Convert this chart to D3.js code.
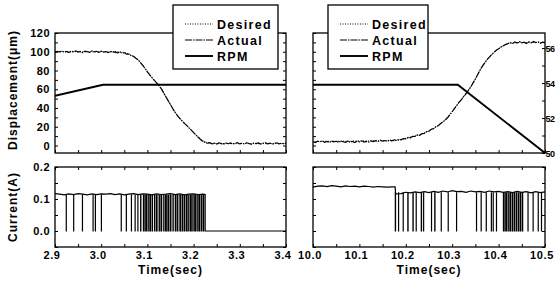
<!DOCTYPE html>
<html>
<head>
<meta charset="utf-8">
<script src="https://cdn.jsdelivr.net/npm/d3@7"></script>
<style>
  body { margin: 0; background: #fff; }
  svg { display: block; font-family: "Liberation Sans", Arial, sans-serif; }
</style>
</head>
<body>
<svg id="chart" width="555" height="281"></svg>
<script>
// ---- data ----
// tick labels
var timeTicksL = [2.9, 3.0, 3.1, 3.2, 3.3, 3.4];
var timeTicksR = [10.0, 10.1, 10.2, 10.3, 10.4, 10.5];
var dispTicks = [0, 20, 40, 60, 80, 100, 120];
var curTicks = [0.0, 0.1, 0.2];
var rpmTicks = [50, 52, 54, 56];   // x100 rpm

// actual displacement, sampled every 5 ms
var sampleStep = 0.005;
var actualL = [99.5,100.5,99.8,100.8,99.6,100.4,99.2,100.6,99.9,101.0,99.7,100.3,99.1,100.7,100.0,99.3,100.9,99.8,100.5,99.4,
  100.6,99.7,100.2,99.0,100.4,99.6,99.9,98.8,99.5,98.6,98.9,97.4,97.6,95.8,95.2,93.0,91.4,88.5,85.6,82.0,
  78.5,75.4,72.3,69.4,66.8,64.0,60.6,56.2,52.0,47.8,43.6,39.2,35.4,31.8,29.0,26.2,23.6,21.5,18.8,16.4,
  13.8,11.2,8.8,6.4,4.6,3.2,2.4,3.0,1.8,2.6,1.6,2.9,2.0,1.4,2.7,1.9,2.8,1.5,2.3,3.1,
  1.7,2.5,1.6,2.9,2.1,1.3,2.6,2.0,2.8,1.6,2.4,3.0,1.8,2.6,1.5,2.2,2.9,1.7,2.5,1.9,2.6];
var actualR = [4.2,3.1,4.6,3.8,5.0,3.5,4.4,3.2,4.8,3.9,4.5,3.3,4.9,4.0,3.4,4.7,3.6,4.3,3.2,4.6,
  3.9,5.0,3.7,4.4,3.5,4.8,4.1,5.2,4.3,5.6,4.6,5.3,4.5,5.8,5.0,6.1,5.4,6.6,6.0,7.4,
  7.0,8.6,8.2,9.8,9.6,11.2,10.8,12.6,13.0,14.8,15.2,17.4,18.0,20.2,21.0,23.4,25.0,27.2,29.4,32.8,
  36.0,39.6,43.0,46.2,49.0,52.4,55.2,58.8,62.4,66.8,71.0,75.8,80.4,84.6,88.2,91.6,94.2,97.0,99.4,101.6,
  103.2,105.0,106.4,107.8,108.6,109.8,108.9,110.4,109.2,110.8,109.6,110.2,108.8,110.6,109.4,111.0,109.8,110.5,109.1,110.3,109.7];

// desired trajectory (corner points)
var desiredTL = [2.90, 3.04, 3.05, 3.06, 3.07, 3.08, 3.09, 3.10, 3.11, 3.12, 3.13, 3.14, 3.15, 3.16, 3.17, 3.18, 3.19, 3.20, 3.21, 3.22, 3.23, 3.24, 3.40];
var desiredVL = [100, 100, 99.2, 97.5, 95, 91.2, 85.8, 79, 72.5, 66.8, 60.8, 52, 43.6, 35.5, 29, 24, 19, 14, 9, 5, 3, 2, 2];
var desiredTR = [10.00, 10.18, 10.20, 10.22, 10.24, 10.26, 10.28, 10.30, 10.32, 10.34, 10.36, 10.38, 10.40, 10.42, 10.44, 10.50];
var desiredVR = [4.2, 5.2, 7.6, 10.2, 13.4, 18.2, 25.2, 36.2, 49.2, 62.6, 80.6, 94.4, 103.4, 108.8, 109.8, 109.8];

// motor speed (x100 rpm)
var rpmTL = [2.90, 3.004, 3.40];
var rpmVL = [53.27, 53.90, 53.90];
var rpmTR = [10.00, 10.312, 10.50];
var rpmVR = [53.90, 53.90, 50.00];

// coil current (A)
var curTL = [2.90,2.91,2.92,2.93,2.94,2.95,2.96,2.97,2.98,2.99,3.00,3.01,3.02,3.03,3.04,3.05,3.06,3.07,3.08,3.09,
  3.10,3.11,3.12,3.13,3.14,3.15,3.16,3.17,3.18,3.19,3.20,3.21,3.22,3.225,3.225,3.40];
var curVL = [0.117,0.115,0.113,0.116,0.114,0.117,0.115,0.113,0.116,0.114,0.116,0.115,0.117,0.114,0.116,0.113,0.115,0.117,0.114,0.116,
  0.115,0.113,0.116,0.114,0.115,0.117,0.114,0.116,0.113,0.115,0.116,0.114,0.115,0.114,0,0];
var curTR = [10.00,10.01,10.02,10.03,10.04,10.05,10.06,10.07,10.08,10.09,10.10,10.11,10.12,10.13,10.14,10.15,10.16,10.17,10.177,10.178,
  10.19,10.20,10.21,10.22,10.23,10.24,10.25,10.26,10.27,10.28,10.29,10.30,10.31,10.32,10.33,10.34,10.35,10.36,10.37,10.38,
  10.39,10.40,10.41,10.42,10.43,10.44,10.45,10.46,10.47,10.48,10.49,10.50];
var curVR = [0.137,0.140,0.141,0.139,0.142,0.140,0.138,0.141,0.139,0.140,0.138,0.140,0.139,0.137,0.139,0.138,0.137,0.138,0.138,0.116,
  0.117,0.121,0.119,0.122,0.120,0.123,0.120,0.124,0.121,0.125,0.122,0.126,0.123,0.124,0.121,0.125,0.122,0.124,0.121,0.125,
  0.122,0.124,0.121,0.123,0.120,0.124,0.121,0.123,0.119,0.123,0.120,0.122];

// PWM drop-outs: [start, end] in sec where current falls to zero
var spikesL = [[2.924,2.926],[2.940,2.942],[2.959,2.961],[2.982,2.984],[2.987,2.989],[3.000,3.002],[3.043,3.045],[3.054,3.056],
  [3.065,3.067],[3.073,3.075],[3.079,3.081],[3.085,3.088],[3.091,3.095],[3.096,3.100],[3.101,3.104],[3.105,3.109],[3.110,3.113],
  [3.115,3.118],[3.119,3.123],[3.125,3.128],[3.129,3.133],[3.135,3.138],[3.139,3.143],[3.144,3.148],[3.149,3.153],[3.155,3.158],
  [3.160,3.164],[3.165,3.168],[3.170,3.174],[3.175,3.178],[3.179,3.183],[3.184,3.188],[3.189,3.192],[3.193,3.197],[3.198,3.201],
  [3.202,3.206],[3.207,3.210],[3.211,3.215],[3.216,3.219],[3.220,3.224]];
var spikesR = [[10.177,10.180],[10.184,10.186],[10.194,10.196],[10.204,10.207],[10.215,10.218],[10.222,10.224],[10.233,10.236],
  [10.238,10.240],[10.255,10.257],[10.262,10.265],[10.276,10.278],[10.291,10.293],[10.309,10.311],[10.352,10.354],[10.362,10.364],
  [10.373,10.375],[10.384,10.386],[10.388,10.390],[10.395,10.397],[10.410,10.414],[10.415,10.419],[10.420,10.423],[10.424,10.428],
  [10.429,10.432],[10.433,10.437],[10.438,10.441],[10.442,10.446],[10.447,10.450],[10.451,10.454],[10.463,10.465],[10.474,10.476],
  [10.485,10.487],[10.492,10.494]];

// ---- drawing ----
var svg = d3.select("#chart");
var topY = 33, topB = 153, botY = 167, botB = 247;

var yDisp = d3.scaleLinear().domain([-8, 120]).range([topB, topY]);
var yRpm = d3.scaleLinear().domain([50, 56.86]).range([topB, topY]);
var yCur = d3.scaleLinear().domain([-0.05, 0.2]).range([botB, botY]);
var xL = d3.scaleLinear().domain([2.9, 3.4]).range([55, 286]);
var xR = d3.scaleLinear().domain([10.0, 10.5]).range([313, 545]);

var defs = svg.append("defs");

function clip(id, x0, y0, x1, y1) {
  defs.append("clipPath").attr("id", id).append("rect")
    .attr("x", x0).attr("y", y0).attr("width", x1 - x0).attr("height", y1 - y0);
  return "url(#" + id + ")";
}

function ticksOnly(g) {
  g.select(".domain").remove();
  g.selectAll("line").attr("stroke", "#000").attr("stroke-width", 1);
}

function column(x, side, d) {
  var x0 = x.range()[0], x1 = x.range()[1];
  var t0 = x.domain()[0];

  // ---- top panel ----
  var top = svg.append("g");
  var cTop = clip("ct" + side, x0, topY, x1, topB);

  var minorDisp = d3.range(0, 121, 10);
  top.append("g").attr("transform", "translate(" + x0 + ",0)")
    .call(d3.axisLeft(yDisp).tickValues(minorDisp).tickSize(-3).tickFormat("")).call(ticksOnly);
  if (side === "L") {
    top.append("g").attr("transform", "translate(" + x1 + ",0)")
      .call(d3.axisRight(yDisp).tickValues(minorDisp).tickSize(-3).tickFormat("")).call(ticksOnly);
  } else {
    top.append("g").attr("transform", "translate(" + x1 + ",0)")
      .call(d3.axisRight(yRpm).tickValues(d3.range(50, 57, 1)).tickSize(-3).tickFormat("")).call(ticksOnly);
  }
  var minorT = d3.range(0, 11).map(function(i) { return t0 + i * 0.05; });
  top.append("g").attr("transform", "translate(0," + topB + ")")
    .call(d3.axisBottom(x).tickValues(minorT).tickSize(-3).tickFormat("")).call(ticksOnly);

  var dispLine = d3.line().x(function(p) { return x(p[0]); }).y(function(p) { return yDisp(p[1]); });
  var rpmLine = d3.line().x(function(p) { return x(p[0]); }).y(function(p) { return yRpm(p[1]); });

  var des = d.desiredT.map(function(t, i) { return [t, d.desiredV[i]]; });
  var act = d.actual.map(function(v, i) { return [t0 + i * sampleStep, v]; });
  var rpm = d.rpmT.map(function(t, i) { return [t, d.rpmV[i]]; });

  var data = top.append("g").attr("clip-path", cTop);
  data.append("path").attr("d", rpmLine(rpm)).attr("fill", "none")
    .attr("stroke", "#000").attr("stroke-width", 1.9);
  data.append("path").attr("d", dispLine(des)).attr("fill", "none")
    .attr("stroke", "#000").attr("stroke-width", 1).attr("stroke-dasharray", "1,1.5");
  data.append("path").attr("d", dispLine(act)).attr("fill", "none")
    .attr("stroke", "#000").attr("stroke-width", 1.2).attr("stroke-dasharray", "7,1,1.5,1");

  top.append("rect").attr("x", x0).attr("y", topY).attr("width", x1 - x0).attr("height", topB - topY)
    .attr("fill", "none").attr("stroke", "#000").attr("stroke-width", 1.3);

  // ---- bottom panel ----
  var bot = svg.append("g");
  var cBot = clip("cb" + side, x0, botY, x1, botB);
  var minorCur = [-0.05, 0, 0.05, 0.1, 0.15, 0.2];
  bot.append("g").attr("transform", "translate(" + x0 + ",0)")
    .call(d3.axisLeft(yCur).tickValues(minorCur).tickSize(-3).tickFormat("")).call(ticksOnly);
  bot.append("g").attr("transform", "translate(" + x1 + ",0)")
    .call(d3.axisRight(yCur).tickValues(minorCur).tickSize(-3).tickFormat("")).call(ticksOnly);
  bot.append("g").attr("transform", "translate(0," + botB + ")")
    .call(d3.axisBottom(x).tickValues(minorT).tickSize(-3).tickFormat("")).call(ticksOnly);
  bot.append("g").attr("transform", "translate(0," + botY + ")")
    .call(d3.axisTop(x).tickValues(minorT).tickSize(-3).tickFormat("")).call(ticksOnly);

  var curLine = d3.line().x(function(p) { return x(p[0]); }).y(function(p) { return yCur(p[1]); });
  var cur = d.curT.map(function(t, i) { return [t, d.curV[i]]; });
  var cdata = bot.append("g").attr("clip-path", cBot);
  cdata.append("path").attr("d", curLine(cur)).attr("fill", "none")
    .attr("stroke", "#000").attr("stroke-width", 1.2);
  cdata.selectAll("rect.spk").data(d.spikes).enter().append("rect").attr("class", "spk")
    .attr("x", function(s) { return x(s[0]) - 0.4; })
    .attr("width", function(s) { return Math.max(1.2, x(s[1]) - x(s[0])); })
    .attr("y", yCur(d.spikeTop))
    .attr("height", yCur(0) - yCur(d.spikeTop) + 0.5)
    .attr("fill", "#000");

  bot.append("rect").attr("x", x0).attr("y", botY).attr("width", x1 - x0).attr("height", botB - botY)
    .attr("fill", "none").attr("stroke", "#000").attr("stroke-width", 1.3);

  // time tick labels
  bot.append("g").selectAll("text").data(d.timeTicks).enter().append("text")
    .attr("x", function(t) { return x(t) - 3; }).attr("y", 259)
    .attr("text-anchor", "middle").attr("font-size", 11).attr("font-weight", "bold")
    .attr("letter-spacing", 0.6)
    .text(function(t) { return d3.format(".1f")(t); });

  svg.append("text").attr("x", (x0 + x1) / 2).attr("y", 274).attr("text-anchor", "middle")
    .attr("font-size", 12).attr("letter-spacing", 1).attr("font-weight", "bold").text("Time(sec)");

  // legend
  var lg = svg.append("g").attr("transform", "translate(" + d.legendX + ",5)");
  lg.append("rect").attr("width", d.legendW).attr("height", 64).attr("fill", "#fff")
    .attr("stroke", "#000").attr("stroke-width", 1.3);
  var items = [["Desired", "1,1.5", 1], ["Actual", "7,1,1.5,1", 1.2], ["RPM", null, 1.9]];
  items.forEach(function(it, i) {
    var yy = 19 + i * 16;
    lg.append("line").attr("x1", 12).attr("x2", 40).attr("y1", yy).attr("y2", yy)
      .attr("stroke", "#000").attr("stroke-width", it[2]).attr("stroke-dasharray", it[1]);
    lg.append("text").attr("x", 44).attr("y", yy + 4.5).attr("font-size", 12.5)
      .attr("font-weight", "bold").attr("letter-spacing", 1.3).text(it[0]);
  });
}

column(xL, "L", {
  actual: actualL, desiredT: desiredTL, desiredV: desiredVL, rpmT: rpmTL, rpmV: rpmVL,
  curT: curTL, curV: curVL, spikes: spikesL, spikeTop: 0.114, timeTicks: timeTicksL,
  legendX: 173, legendW: 105
});
column(xR, "R", {
  actual: actualR, desiredT: desiredTR, desiredV: desiredVR, rpmT: rpmTR, rpmV: rpmVR,
  curT: curTR, curV: curVR, spikes: spikesR, spikeTop: 0.121, timeTicks: timeTicksR,
  legendX: 328, legendW: 100
});

// left-hand value labels
svg.append("g").selectAll("text").data(dispTicks).enter().append("text")
  .attr("x", 50).attr("y", function(v) { return yDisp(v) + 4; })
  .attr("text-anchor", "end").attr("font-size", 11).attr("font-weight", "bold").attr("letter-spacing", 0.5)
  .text(function(v) { return v; });
svg.append("g").selectAll("text").data(curTicks).enter().append("text")
  .attr("x", 50).attr("y", function(v) { return yCur(v) + 4; })
  .attr("text-anchor", "end").attr("font-size", 11).attr("font-weight", "bold").attr("letter-spacing", 0.5)
  .text(function(v) { return d3.format(".1f")(v); });

// rpm labels squeezed against the right page edge
svg.append("g").selectAll("text").data(rpmTicks).enter().append("text")
  .attr("x", 545.5).attr("y", function(v) { return yRpm(v) + 3.5; })
  .attr("font-size", 9).attr("font-weight", "bold").attr("letter-spacing", -0.6)
  .text(function(v) { return v; });

// axis titles
svg.append("text").attr("transform", "translate(17,90) rotate(-90)").attr("text-anchor", "middle")
  .attr("font-size", 12).attr("font-weight", "bold").attr("letter-spacing", 1).text("Displacement(\u03bcm)");
svg.append("text").attr("transform", "translate(17,207) rotate(-90)").attr("text-anchor", "middle")
  .attr("font-size", 12).attr("font-weight", "bold").attr("letter-spacing", 1).text("Current(A)");
</script>
</body>
</html>
